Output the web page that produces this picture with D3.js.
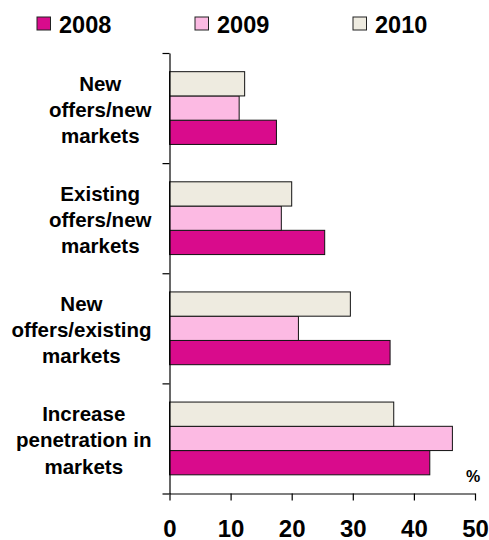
<!DOCTYPE html>
<html>
<head>
<meta charset="utf-8">
<script src="https://cdn.jsdelivr.net/npm/d3@7"></script>
<style>
  html, body { margin: 0; padding: 0; background: #fff; }
  svg { display: block; font-family: "Liberation Sans", Arial, Helvetica, sans-serif; font-weight: bold; }
</style>
</head>
<body>
<svg id="chart" width="489" height="540"></svg>
<script>
// Growth strategy categories, top to bottom
const categories = [
  ["New", "offers/new", "markets"],
  ["Existing", "offers/new", "markets"],
  ["New", "offers/existing", "markets"],
  ["Increase", "penetration in", "markets"]
];
const categoryKeys = categories.map(c => c.join(" "));

// Series (drawn top to bottom inside each group: 2010, 2009, 2008)
const years = ["2008", "2009", "2010"];
const values2008 = [17.5, 25.4, 36.1, 42.6];
const values2009 = [11.4, 18.3, 21.1, 46.3];
const values2010 = [12.3, 20.0, 29.6, 36.7];
const colors = ["#d90b8c", "#fcbae3", "#eeebe0"];

const xTicks = [0, 10, 20, 30, 40, 50];

const seriesValues = { "2008": values2008, "2009": values2009, "2010": values2010 };
const colorOf = d3.scaleOrdinal().domain(years).range(colors);

const svg = d3.select("#chart");

const plot = { left: 169.5, right: 475, top: 53, bottom: 493.5 };

const x = d3.scaleLinear().domain([0, 50]).range([plot.left, plot.right]);
const y = d3.scaleBand().domain(categoryKeys).range([plot.top, plot.bottom]).padding(0);
const yInner = d3.scaleBand()
  .domain(["2010", "2009", "2008"])
  .range([0, y.bandwidth()])
  .paddingOuter(0.77)
  .paddingInner(0);

// Bars
const rows = categoryKeys.map((key, i) => ({ key, i }));
const groups = svg.append("g").selectAll("g")
  .data(rows)
  .join("g")
  .attr("transform", d => `translate(0,${y(d.key)})`);

groups.selectAll("rect")
  .data(d => years.map(yr => ({ yr, v: seriesValues[yr][d.i] })))
  .join("rect")
  .attr("x", x(0))
  .attr("y", d => yInner(d.yr))
  .attr("width", d => x(d.v) - x(0))
  .attr("height", yInner.bandwidth())
  .attr("fill", d => colorOf(d.yr))
  .attr("stroke", "#111")
  .attr("stroke-width", 1);

// Vertical axis with ticks at the group boundaries
const yBounds = d3.scaleLinear().domain([0, categoryKeys.length]).range([plot.top, plot.bottom]);
svg.append("g")
  .attr("transform", `translate(${plot.left},0)`)
  .call(d3.axisLeft(yBounds).tickValues(d3.range(categoryKeys.length + 1)).tickFormat("").tickSize(7).tickSizeOuter(0))
  .call(g => g.selectAll("line, path").attr("stroke", "#000").attr("stroke-width", 1.2));

// Category labels: each block is right-aligned, its lines centred within the block
const labelRight = 151.5;
const lineGap = 26.3;
const labelGroups = svg.append("g").selectAll("text")
  .data(rows)
  .join("text")
  .attr("text-anchor", "middle")
  .attr("font-size", 20.5)
  .attr("fill", "#000");
labelGroups.selectAll("tspan")
  .data(d => categories[d.i].map((line, j) => ({ line, j, cy: y(d.key) + y.bandwidth() / 2 })))
  .join("tspan")
  .attr("y", d => d.cy + 8.8 + (d.j - 1) * lineGap)
  .text(d => d.line);
labelGroups.each(function () {
  const spans = d3.select(this).selectAll("tspan");
  let widest = 0;
  spans.each(function () { widest = Math.max(widest, this.getComputedTextLength()); });
  spans.attr("x", labelRight - widest / 2);
});

// Horizontal axis
svg.append("g")
  .attr("transform", `translate(0,${plot.bottom})`)
  .call(d3.axisBottom(x).tickValues(xTicks).tickSize(7).tickSizeOuter(0))
  .call(g => g.selectAll("line, path").attr("stroke", "#000").attr("stroke-width", 1.2))
  .call(g => g.selectAll("text")
    .attr("y", 43).attr("dy", 0)
    .attr("font-size", 24)
    .attr("font-family", "'Liberation Sans', Arial, sans-serif")
    .attr("font-weight", "bold")
    .attr("fill", "#000"));

// Unit label
svg.append("text")
  .attr("x", 473)
  .attr("y", 482)
  .attr("text-anchor", "middle")
  .attr("font-size", 16)
  .attr("fill", "#000")
  .text("%");

// Legend
const legendX = [37, 195, 353];
const legend = svg.append("g").selectAll("g")
  .data(years)
  .join("g")
  .attr("transform", (d, i) => `translate(${legendX[i]},17)`);
legend.append("rect")
  .attr("width", 13.5)
  .attr("height", 13)
  .attr("fill", d => colorOf(d))
  .attr("stroke", "#222")
  .attr("stroke-width", 1);
legend.append("text")
  .attr("x", 22)
  .attr("y", 15.5)
  .attr("font-size", 23.5)
  .attr("fill", "#000")
  .text(d => d);
</script>
</body>
</html>
